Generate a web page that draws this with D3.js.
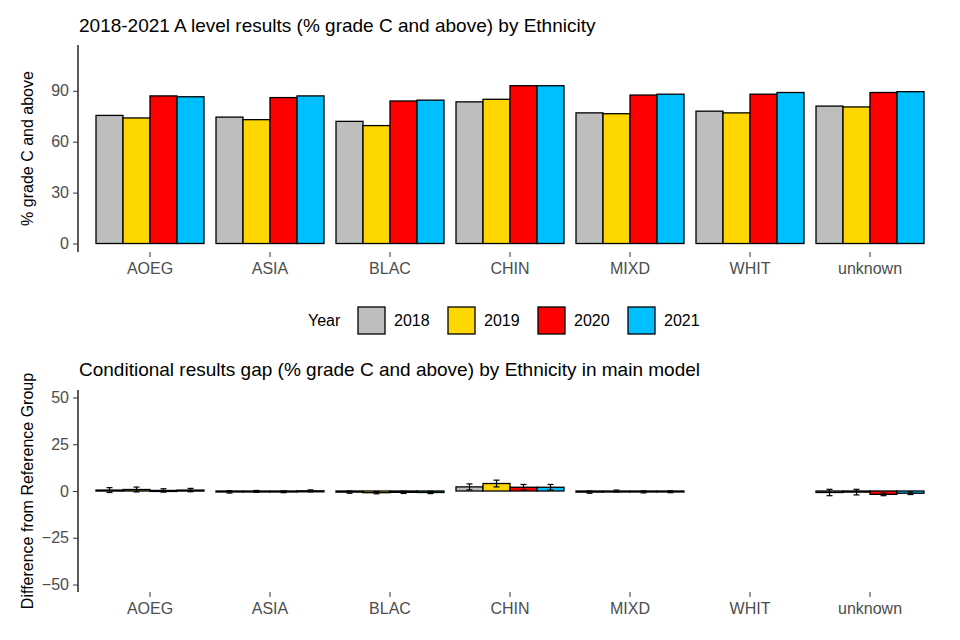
<!DOCTYPE html>
<meta charset="utf-8">
<title>A level results</title>
<style>
body { margin: 0; background: #fff; }
text { font-family: "Liberation Sans", Arial, sans-serif; }
</style>
<body>
<script src="https://cdn.jsdelivr.net/npm/d3@7"></script>
<script>

var ethnicities = ["AOEG", "ASIA", "BLAC", "CHIN", "MIXD", "WHIT", "unknown"];
var years = ["2018", "2019", "2020", "2021"];
var yearColours = ["#bebebe", "#ffd700", "#ff0000", "#00bfff"];

// % grade C and above, one array per year
var results2018 = [75.5, 74.5, 72, 83.5, 77, 78, 81];
var results2019 = [74, 73, 69.5, 85, 76.5, 77, 80.5];
var results2020 = [87, 86, 84, 93, 87.5, 88, 89];
var results2021 = [86.5, 87, 84.5, 93, 88, 89, 89.5];

// conditional gap vs reference group (WHIT is the reference, so no bars)
var gap2018 = [0.5, -0.5, -0.6, 2.2, -0.6, null, -0.8];
var gap2019 = [0.8, -0.2, -0.9, 4.0, 0.0, null, -0.6];
var gap2020 = [0.3, -0.4, -0.7, 2.0, -0.5, null, -1.8];
var gap2021 = [0.5, 0.1, -0.8, 2.0, -0.4, null, -1.2];
var gapErr2018 = [1.3, 0.6, 0.6, 1.6, 0.6, null, 1.7];
var gapErr2019 = [1.3, 0.5, 0.6, 1.8, 0.5, null, 1.5];
var gapErr2020 = [0.9, 0.5, 0.6, 1.5, 0.5, null, 0.7];
var gapErr2021 = [0.9, 0.5, 0.6, 1.5, 0.5, null, 0.7];

var topTicks = [0, 30, 60, 90];
var bottomTicks = [-50, -25, 0, 25, 50];

var resultsByYear = [results2018, results2019, results2020, results2021];
var gapsByYear = [gap2018, gap2019, gap2020, gap2021];
var errsByYear = [gapErr2018, gapErr2019, gapErr2020, gapErr2021];

var svg = d3.select("body").append("svg").attr("width", 960).attr("height", 640);

var x = d3.scaleBand().domain(ethnicities).range([90, 930]).paddingInner(0.1).paddingOuter(0.05);
var xYear = d3.scaleBand().domain(years).range([0, x.bandwidth()]);
var colour = d3.scaleOrdinal().domain(years).range(yearColours);

function panel(y0, title, yLabel, y, ticks, series, errs) {
  var g = svg.append("g");
  g.append("text").attr("x", 79).attr("y", y0).attr("font-size", 19).attr("fill", "#000").text(title);

  var ya = g.append("g").attr("transform", "translate(78,0)")
      .call(d3.axisLeft(y).tickValues(ticks).tickSize(5).tickPadding(4));
  ya.select(".domain").attr("d", "M0," + y.range()[1] + "V" + y.range()[0]).attr("stroke-width", 1.3);
  ya.selectAll("text").attr("font-size", 16).attr("fill", "#4d4d4d");
  ya.selectAll(".tick line").attr("stroke", "#333");

  var xa = g.append("g").attr("transform", "translate(0," + y.range()[0] + ")")
      .call(d3.axisBottom(x).tickSize(5).tickPadding(6));
  xa.select(".domain").remove();
  xa.selectAll("text").attr("font-size", 16).attr("fill", "#4d4d4d");
  xa.selectAll(".tick line").attr("stroke", "#333");

  series.forEach(function(vals, yi) {
    var data = ethnicities.map(function(e, i) { return {e: e, v: vals[i], err: errs ? errs[yi][i] : null}; })
        .filter(function(d) { return d.v != null; });
    g.selectAll(null).data(data).enter().append("rect")
        .attr("x", function(d) { return x(d.e) + xYear(years[yi]); })
        .attr("width", xYear.bandwidth())
        .attr("y", function(d) { return y(Math.max(0, d.v)); })
        .attr("height", function(d) { return Math.max(1, Math.abs(y(d.v) - y(0))); })
        .attr("fill", colour(years[yi]))
        .attr("stroke", "#000").attr("stroke-width", 1.3);
    if (errs) {
      var eb = g.selectAll(null).data(data).enter().append("g")
          .attr("transform", function(d) { return "translate(" + (x(d.e) + xYear(years[yi]) + xYear.bandwidth() / 2) + ",0)"; })
          .attr("stroke", "#000").attr("stroke-width", 1.2);
      eb.append("line").attr("y1", function(d) { return y(d.v - d.err); }).attr("y2", function(d) { return y(d.v + d.err); });
      eb.append("line").attr("x1", -3).attr("x2", 3).attr("y1", function(d) { return y(d.v - d.err); }).attr("y2", function(d) { return y(d.v - d.err); });
      eb.append("line").attr("x1", -3).attr("x2", 3).attr("y1", function(d) { return y(d.v + d.err); }).attr("y2", function(d) { return y(d.v + d.err); });
    }
  });

  var mid = (y.range()[0] + y.range()[1]) / 2;
  g.append("text").attr("transform", "translate(33," + mid + ") rotate(-90)")
      .attr("text-anchor", "middle").attr("font-size", 16).attr("fill", "#000").text(yLabel);
}

var yTop = d3.scaleLinear().domain([-5, 117]).range([252, 45]);
panel(32, "2018-2021 A level results (% grade C and above) by Ethnicity", "% grade C and above",
      yTop, topTicks, resultsByYear, null);

var yBottom = d3.scaleLinear().domain([-54, 54]).range([592, 390]);
panel(376, "Conditional results gap (% grade C and above) by Ethnicity in main model", "Difference from Reference Group",
      yBottom, bottomTicks, gapsByYear, errsByYear);

// legend
var legend = svg.append("g").attr("transform", "translate(308,320)");
legend.append("text").attr("y", 6).attr("font-size", 16).text("Year");
years.forEach(function(yr, i) {
  var lg = legend.append("g").attr("transform", "translate(" + (50 + i * 90) + ",0)");
  lg.append("rect").attr("x", 0).attr("y", -13).attr("width", 27).attr("height", 27)
      .attr("fill", colour(yr)).attr("stroke", "#000").attr("stroke-width", 1.3);
  lg.append("text").attr("x", 36).attr("y", 6).attr("font-size", 16).text(yr);
});

</script>
</body>
